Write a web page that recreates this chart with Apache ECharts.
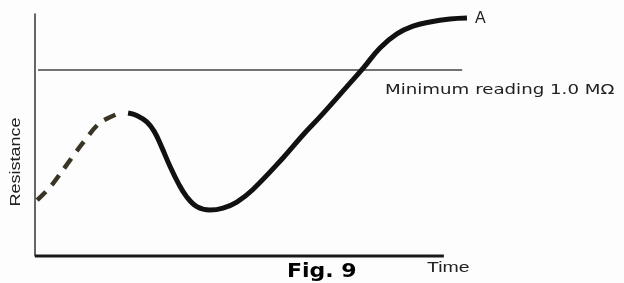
<!DOCTYPE html>
<html>
<head>
<meta charset="utf-8">
<script src="https://cdn.jsdelivr.net/npm/echarts@6/dist/echarts.min.js"></script>
<style>
  html, body { margin: 0; padding: 0; background: #fff; }
  #chart { width: 624px; height: 283px; }
</style>
</head>
<body>
<div id="chart"></div>
<script>
  // early part of the curve (dashed), [time, resistance]
  const dashedPart = [
    [0.5, 23.1], [3.5, 28.5], [6.4, 35.5], [11.0, 46.7], [14.9, 55.0], [19.5, 59.1]
  ]
  // measured part of the curve (solid)
  const solidPart = [
    [21.4, 59.1], [23.5, 58.0], [25.7, 55.4], [27.4, 51.5], [29.0, 45.5],
    [31.0, 37.2], [32.9, 30.2], [34.9, 24.4], [37.2, 20.4], [40.2, 19.0],
    [43.2, 19.8], [46.4, 22.3], [50.1, 27.5], [57.0, 40.5], [61.6, 50.0],
    [65.5, 57.5], [71.7, 70.0], [75.4, 77.5], [79.3, 86.0], [83.2, 91.8],
    [86.9, 95.0], [90.8, 96.7], [95.4, 97.9], [99.3, 98.3]
  ]
  // minimum reading threshold line
  const minReading = [[0.7, 76.9], [98.2, 76.9]]
  // time axis, drawn shorter than the curve
  const timeAxis = [[0, 0], [94.0, 0]]

  const chart = echarts.init(document.getElementById('chart'))
  chart.setOption({
    backgroundColor: '#fdfdfd',
    animation: false,
    grid: { left: 35, right: 154, top: 14, bottom: 27 },
    xAxis: {
      type: 'value',
      min: 0,
      max: 100,
      axisLine: { show: false },
      axisTick: { show: false },
      axisLabel: { show: false },
      splitLine: { show: false }
    },
    yAxis: {
      type: 'value',
      min: 0,
      max: 100,
      axisLine: { show: true, lineStyle: { color: '#333', width: 1.5 } },
      axisTick: { show: false },
      axisLabel: { show: false },
      splitLine: { show: false }
    },
    graphic: [
      {
        type: 'text', x: 16, y: 162, rotation: Math.PI / 2, scaleX: 1.2,
        style: {
          text: 'Resistance', font: '15px "Liberation Sans", Arial', fill: '#222',
          align: 'center', verticalAlign: 'middle'
        }
      },
      {
        type: 'text', x: 385, y: 90, scaleX: 1.3,
        style: {
          text: 'Minimum reading 1.0 MΩ', font: '14px "DejaVu Sans"', fill: '#222',
          verticalAlign: 'middle'
        }
      },
      {
        type: 'text', x: 427, y: 268, scaleX: 1.3,
        style: {
          text: 'Time', font: '15px "Liberation Sans", Arial', fill: '#222',
          verticalAlign: 'middle'
        }
      },
      {
        type: 'text', x: 287, y: 272, scaleX: 1.1,
        style: {
          text: 'Fig. 9', font: 'bold 20px "DejaVu Sans"', fill: '#000',
          verticalAlign: 'middle'
        }
      }
    ],
    series: [
      {
        name: 'time axis',
        type: 'line',
        data: timeAxis,
        symbol: 'none',
        clip: false,
        lineStyle: { color: '#1a1a1a', width: 3 }
      },
      {
        name: 'min',
        type: 'line',
        data: minReading,
        symbol: 'none',
        clip: false,
        lineStyle: { color: '#444', width: 1.5 }
      },
      {
        name: 'dashed',
        type: 'line',
        data: dashedPart,
        smooth: 0.3,
        symbol: 'none',
        clip: false,
        lineStyle: { color: '#3a3424', width: 4.5, type: [12, 9] }
      },
      {
        name: 'solid',
        type: 'line',
        data: solidPart,
        smooth: 0.4,
        symbol: 'none',
        clip: false,
        lineStyle: { color: '#111', width: 5 },
        endLabel: {
          show: true,
          formatter: 'A',
          distance: 8,
          color: '#222',
          fontSize: 16,
          fontFamily: 'Liberation Sans'
        }
      }
    ]
  })
</script>
</body>
</html>
